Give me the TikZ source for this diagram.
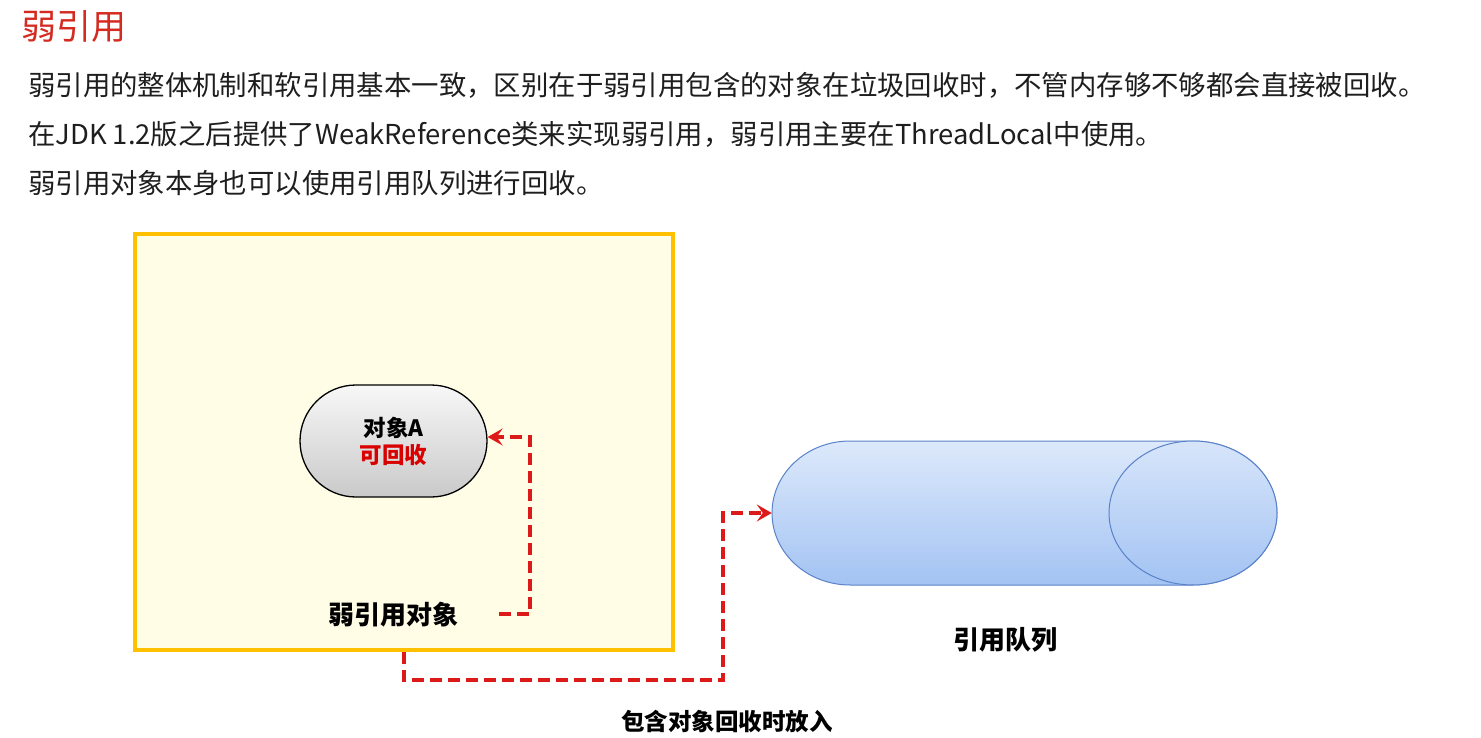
\documentclass[tikz,border=0pt]{standalone}
\usepackage{fontspec}
\setmainfont{Noto Sans CJK SC}
\usetikzlibrary{arrows.meta,shapes.misc}
\definecolor{titlered}{HTML}{D42A20}
\definecolor{txt}{HTML}{1E1E1E}
\definecolor{boxborder}{HTML}{FFC000}
\definecolor{boxfill}{HTML}{FFFDE6}
\definecolor{dashred}{HTML}{DD1A1A}
\definecolor{qborder}{HTML}{5A82C8}
\definecolor{qtop}{HTML}{DDE9FB}
\definecolor{qbot}{HTML}{A3C3F3}
\tikzset{
  bodytext/.style={anchor=base west,inner sep=0,text=txt,font=\fontsize{27.4}{30}\selectfont},
  lbl/.style={inner sep=0,text=black,font=\bfseries},
  dasharrow/.style={draw=dashred,line width=3.6pt,dash pattern=on 12pt off 6pt,
    -{Stealth[length=15pt,width=17pt,inset=6pt]}},
}
\begin{document}
\begin{tikzpicture}[x=1pt,y=-1pt]
\useasboundingbox (0,0) rectangle (1481,738);
% title and text
\node[anchor=base west,inner sep=0,text=titlered,font=\fontsize{35}{38}\selectfont] (title) at (21,40) {弱引用};
\node[bodytext] (l1) at (28,96) {弱引用的整体机制和软引用基本一致，区别在于弱引用包含的对象在垃圾回收时，不管内存够不够都会直接被回收。};
\node[bodytext] (l2) at (28,145) {在JDK 1.2版之后提供了WeakReference类来实现弱引用，弱引用主要在ThreadLocal中使用。};
\node[bodytext] (l3) at (28,194) {弱引用对象本身也可以使用引用队列进行回收。};
% weak reference box
\node[draw=boxborder,fill=boxfill,line width=4pt,minimum width=538pt,minimum height=416pt,inner sep=0] (W) at (404,442) {};
% object A
\node[rounded rectangle,draw=black,line width=1.3pt,top color=gray!6,bottom color=gray!42,
  minimum width=187pt,minimum height=112pt,inner sep=0,align=center,
  font=\bfseries\fontsize{22.5}{28}\selectfont] (A) at (393.5,441)
  {对象A\\[-1pt]\textcolor{red!85!black}{可回收}};
\node[lbl,font=\bfseries\fontsize{26}{30}\selectfont] (wlabel) at (393,615) {弱引用对象};
% reference queue
\node[inner sep=0,minimum width=505pt,minimum height=144pt] (Q) at (1024.5,513) {};
\path[draw=qborder,line width=1pt,top color=qtop,bottom color=qbot]
  (850,441) -- (1193,441) arc[start angle=-90,end angle=90,x radius=84,y radius=72]
  -- (850,585) arc[start angle=90,end angle=270,x radius=78,y radius=72] -- cycle;
\path[draw=qborder,line width=1pt,top color=qtop!90!qbot,bottom color=qbot]
  (1193,513) ellipse[x radius=84,y radius=72];
\node[lbl,font=\bfseries\fontsize{26}{30}\selectfont] (qlabel) at (1005,640) {引用队列};
\node[lbl,font=\bfseries\fontsize{23.5}{28}\selectfont] (blabel) at (727,722) {包含对象回收时放入};
% arrows
\coordinate (a1) at (499,614);
\coordinate (a2) at (530,614);
\coordinate (a3) at (530,437);
\draw[dasharrow] (a1) -- (a2) -- (a3) -- (a3 -| A.east);
\coordinate (b1) at (404,680);
\coordinate (b2) at (723,680);
\coordinate (b3) at (723,513);
\draw[dasharrow] (W.south) -- (b1) -- (b2) -- (b3) -- (Q.west);
\end{tikzpicture}
\end{document}
